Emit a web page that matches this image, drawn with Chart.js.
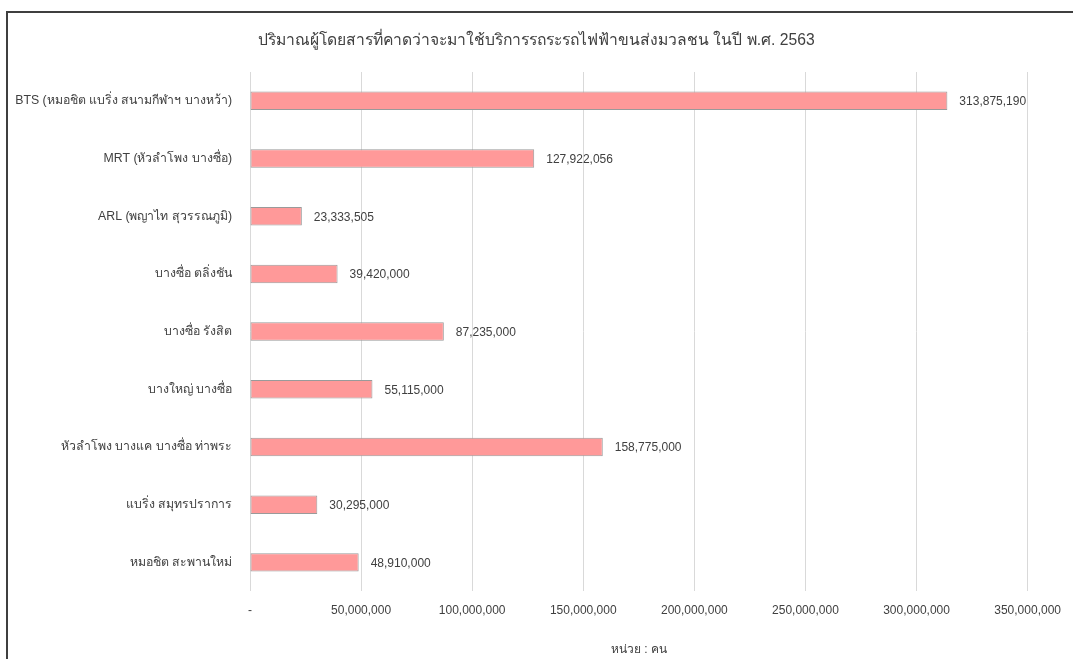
<!DOCTYPE html>
<html>
<head>
<meta charset="utf-8">
<script src="https://cdn.jsdelivr.net/npm/chart.js@4"></script>
<style>
    body { margin: 0; background: #fff; }
    #frame {
        position: absolute; left: 6px; top: 11px;
        width: 1067px; height: 648px;
        border-left: 2px solid #3f3f3f; border-top: 2px solid #3f3f3f;
    }
    #frame canvas { display: block; }
</style>
</head>
<body>
<div id="frame"><canvas id="passengerChart" width="1065" height="646"></canvas></div>
<script>
var chartTitle = `ปริมาณผู้โดยสารที่คาดว่าจะมาใช้บริการรถระรถไฟฟ้าขนส่งมวลชน ในปี พ.ศ. 2563`
var unitLabel = `หน่วย : คน`

var lineNames = [
    `BTS (หมอชิต แบริ่ง สนามกีฬาฯ บางหว้า)`,
    `MRT (หัวลำโพง บางซื่อ)`,
    `ARL (พญาไท สุวรรณภูมิ)`,
    `บางซื่อ ตลิ่งชัน`,
    `บางซื่อ รังสิต`,
    `บางใหญ่ บางซื่อ`,
    `หัวลำโพง บางแค บางซื่อ ท่าพระ`,
    `แบริ่ง สมุทรปราการ`,
    `หมอชิต สะพานใหม่`
]
var passengers = [313875190, 127922056, 23333505, 39420000, 87235000, 55115000, 158775000, 30295000, 48910000]

var axisMax = 350000000
var axisStep = 50000000

var fontName = `"Liberation Sans", Arial, sans-serif`

function formatNumber(value){
    if(value == 0){
        return `-`
    }
    return value.toLocaleString(`en-US`)
}

//title drawn by hand so it sits where the original one does
var chartHeading = {
    id: `chartHeading`,
    afterDraw(chart){
        var ctx = chart.ctx
        ctx.save()
        ctx.font = `15.7px ${fontName}`
        ctx.fillStyle = `#404040`
        ctx.textAlign = `left`
        ctx.textBaseline = `middle`
        ctx.fillText(chartTitle, 250, 28)
        ctx.restore()
    }
}

//value labels to the right of each bar
var barValueLabels = {
    id: `barValueLabels`,
    afterDatasetsDraw(chart){
        var ctx = chart.ctx
        var meta = chart.getDatasetMeta(0)
        ctx.save()
        ctx.font = `12px ${fontName}`
        ctx.fillStyle = `#404040`
        ctx.textAlign = `left`
        ctx.textBaseline = `middle`
        for(var pos = 0; pos < meta.data.length; pos++){
            var bar = meta.data[pos]
            ctx.fillText(formatNumber(passengers[pos]), bar.x + 12, bar.y + 1)
        }
        ctx.restore()
    }
}

new Chart(document.getElementById(`passengerChart`), {
    type: `bar`,
    data: {
        labels: lineNames,
        datasets: [{
            data: passengers,
            backgroundColor: `#ff9999`,
            borderColor: `#9a9a9a`,
            borderWidth: 1,
            borderSkipped: false,
            categoryPercentage: 1,
            barPercentage: 0.32
        }]
    },
    options: {
        indexAxis: `y`,
        responsive: false,
        animation: false,
        layout: {
            padding: { left: 0, right: 39, top: 59, bottom: 2 }
        },
        plugins: {
            legend: { display: false },
            tooltip: { enabled: false },
            title: { display: false }
        },
        scales: {
            x: {
                min: 0,
                max: axisMax,
                border: { display: false },
                grid: { color: `#d9d9d9`, drawTicks: false },
                ticks: {
                    stepSize: axisStep,
                    padding: 12,
                    color: `#404040`,
                    font: { size: 12, family: fontName },
                    callback: function(value){ return formatNumber(value) }
                },
                title: {
                    display: true,
                    text: unitLabel,
                    color: `#404040`,
                    font: { size: 12, family: fontName },
                    padding: { top: 13, bottom: 0 }
                }
            },
            y: {
                border: { display: false },
                grid: { display: false, drawTicks: false },
                ticks: {
                    padding: 18,
                    color: `#404040`,
                    font: { size: 12.3, family: fontName }
                },
                afterFit: function(scale){
                    scale.width = 242
                }
            }
        }
    },
    plugins: [barValueLabels, chartHeading]
})
</script>
</body>
</html>
